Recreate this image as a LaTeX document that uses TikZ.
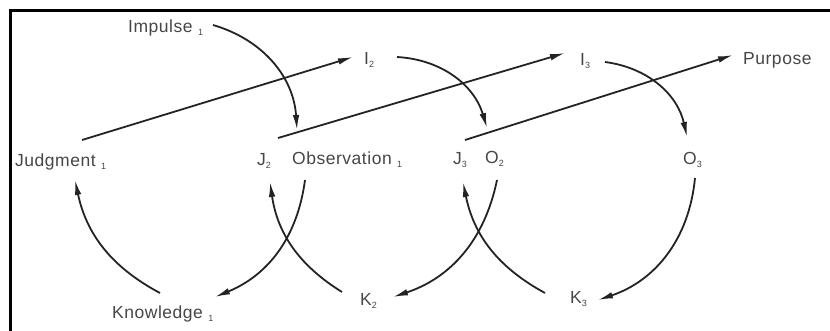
\documentclass[tikz,border=0pt]{standalone}
\usepackage{fontspec}
\setmainfont{Liberation Sans}[LetterSpace=3]
\usepackage{tikz}
\usetikzlibrary{arrows.meta, calc}
\usepackage{xcolor}
\definecolor{inkgray}{RGB}{70, 70, 70}
\definecolor{linegray}{RGB}{35, 35, 35}

\newcommand{\idx}[1]{\raisebox{-3pt}{\fontsize{9}{9}\selectfont #1}}

\begin{document}
\begin{tikzpicture}[x=1pt, y=-1pt,
    term/.style={anchor=base west, inner sep=0pt, text=inkgray, font=\fontsize{17.5}{20}\selectfont},
    flow/.style={-{Latex[length=15pt, width=6.5pt]}, line width=1.8pt, draw=linegray}
]
    \useasboundingbox (0,0) rectangle (830,331);
    % Frame
    \draw[line width=3pt] (10,331) -- (10,11) -- (830,11);

    % Upper row
    \node[term] (i1) at (128,33) {Impulse \idx{1}};
    \node[term] (i2) at (364,65) {I\idx{2}};
    \node[term] (i3) at (580,66) {I\idx{3}};
    \node[term] (p) at (743,65) {Purpose};

    % Middle row
    \node[term] (j1) at (15,167) {Judgment \idx{1}};
    \node[term] (j2) at (257,166) {J\idx{2}};
    \node[term] (o1) at (292,165) {Observation \idx{1}};
    \node[term] (j3) at (453,165) {J\idx{3}};
    \node[term] (o2) at (485,164) {O\idx{2}};
    \node[term] (o3) at (683,165) {O\idx{3}};

    % Lower row
    \node[term] (k1) at (112,318) {Knowledge \idx{1}};
    \node[term] (k2) at (360,305) {K\idx{2}};
    \node[term] (k3) at (570,303) {K\idx{3}};

    % Judgment to next impulse
    \draw[flow] ($(j1.base west)+(67,-27)$) -- ($(i2.base west)+(-11,-8)$);
    \draw[flow] ($(j2.base west)+(21,-28)$) -- ($(i3.base west)+(-15,-13)$);
    \draw[flow] ($(j3.base west)+(12,-25)$) -- ($(p.base west)+(-10,-10)$);

    % Impulse to observation
    \draw[flow] ($(i1.base west)+(85,-8)$) to[bend left=35] ($(o1.base west)+(5,-35)$);
    \draw[flow] ($(i2.base west)+(33,-8)$) to[bend left=35] ($(o2.base west)+(2,-36)$);
    \draw[flow] ($(i3.base west)+(25,-4)$) to[bend left=35] ($(o3.base west)+(4,-28)$);

    % Observation to knowledge
    \draw[flow] ($(o1.base west)+(13,15)$) to[bend left=30] ($(k1.base west)+(103,-21)$);
    \draw[flow] ($(o2.base west)+(12,16)$) to[bend left=30] ($(k2.base west)+(33,-8)$);
    \draw[flow] ($(o3.base west)+(12,13)$) to[bend left=33] ($(k3.base west)+(28,-3)$);

    % Knowledge to judgment
    \draw[flow] ($(k1.base west)+(48,-25)$) to[bend left=25] ($(j1.base west)+(60,13)$);
    \draw[flow] ($(k2.base west)+(-18,-13)$) to[bend left=25] ($(j2.base west)+(13,16)$);
    \draw[flow] ($(k3.base west)+(-25,-10)$) to[bend left=25] ($(j3.base west)+(10,17)$);
\end{tikzpicture}
\end{document}
